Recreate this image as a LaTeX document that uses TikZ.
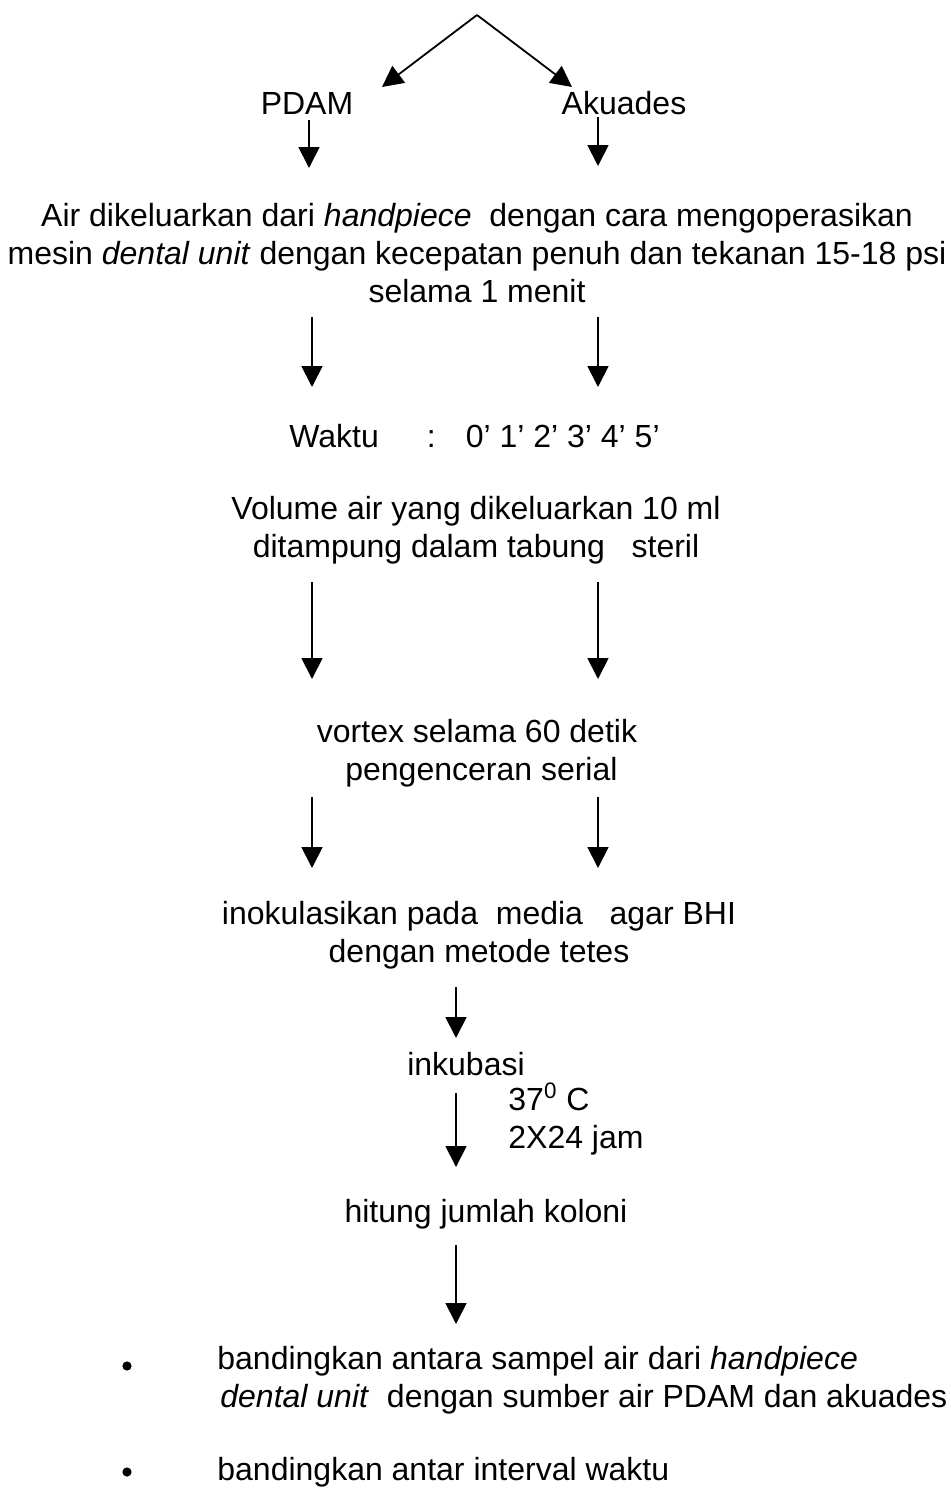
\documentclass[tikz,border=0pt]{standalone}
\usepackage{fontspec}
\setmainfont{Liberation Sans}
\usetikzlibrary{arrows.meta}

\begin{document}
\begin{tikzpicture}[x=0.5pt,y=-0.5pt,
  teks/.style={font=\fontsize{16}{19}\selectfont, inner sep=0pt, align=center},
  titik/.style={circle, fill, inner sep=0pt, minimum size=4.6pt},
  panah/.style={line width=0.9pt, -{Triangle[length=10.5pt,width=10.5pt]}}]
\useasboundingbox (0,0) rectangle (951,1488);
%TOP
\coordinate (puncak) at (477,15);
\coordinate (ujungkiri) at (382,87);
\coordinate (ujungkanan) at (572,87);
\node[teks, anchor=base] (pdam) at (307,114) {PDAM};
\node[teks, anchor=base] (akuades) at (624,114) {Akuades};
\draw[panah] (puncak) -- (ujungkiri);
\draw[panah] (puncak) -- (ujungkanan);
\coordinate (pdamb) at (309,168);
\coordinate (akuadesa) at (598,117);
\coordinate (akuadesb) at (598,166);
\draw[panah] (pdam.south -| pdamb) ++(0,6) -- (pdamb);
\draw[panah] (akuadesa) -- (akuadesb);
% sampling
\node[teks] (keluar) at (477,253) {Air dikeluarkan dari \textit{handpiece}\ \ dengan cara mengoperasikan\\
  mesin \textit{dental unit} dengan kecepatan penuh dan tekanan 15-18 psi\\
  selama 1 menit};
\coordinate (k1a) at (312,317); \coordinate (k1b) at (312,387);
\coordinate (n1a) at (598,317); \coordinate (n1b) at (598,387);
\draw[panah] (k1a) -- (k1b);
\draw[panah] (n1a) -- (n1b);
\node[teks, anchor=base west] (waktu) at (289,447) {Waktu\hspace{24pt}:\hspace{15pt}0’ 1’ 2’ 3’ 4’ 5’};
\node[teks] (volume) at (476,530) {Volume air yang dikeluarkan 10 ml\\ditampung dalam tabung\ \ \ steril};
\coordinate (k2a) at (312,582); \coordinate (k2b) at (312,679);
\coordinate (n2a) at (598,582); \coordinate (n2b) at (598,679);
\draw[panah] (k2a) -- (k2b);
\draw[panah] (n2a) -- (n2b);
\node[teks] (vortex) at (477,753) {vortex selama 60 detik\\\ pengenceran serial};
\coordinate (k3a) at (312,797); \coordinate (k3b) at (312,868);
\coordinate (n3a) at (598,797); \coordinate (n3b) at (598,868);
\draw[panah] (k3a) -- (k3b);
\draw[panah] (n3a) -- (n3b);
%BOT
\node[teks] (inokulasi) at (479,935) {inokulasikan pada\ \ media\ \ \ agar BHI\\dengan metode tetes};
\node[teks, anchor=base] (inkubasi) at (466,1075) {inkubasi};
\coordinate (inok1) at (456,987); \coordinate (inok2) at (456,1038);
\draw[panah] (inok1) -- (inok2);
\coordinate (ink1) at (456,1093); \coordinate (ink2) at (456,1167);
\draw[panah] (ink1) -- (ink2);
\node[teks, anchor=west, align=left] (suhu) at (508,1119) {37\textsuperscript{0} C\\2X24 jam};
\node[teks, anchor=base] (hitung) at (486,1222) {hitung jumlah koloni};
\coordinate (hit1) at (456,1245); \coordinate (hit2) at (456,1324);
\draw[panah] (hit1) -- (hit2);
% kesimpulan
\node[titik] (titik1) at (127,1366) {};
\node[teks, anchor=west, align=left] (banding1) at (217,1380) {bandingkan antara sampel air dari \textit{handpiece}\\
  \hspace{1.5pt}\textit{dental unit}\ \ dengan sumber air PDAM dan akuades};
\node[titik] (titik2) at (127,1472) {};
\node[teks, anchor=base west] (banding2) at (217,1480) {bandingkan antar interval waktu};
\end{tikzpicture}
\end{document}
